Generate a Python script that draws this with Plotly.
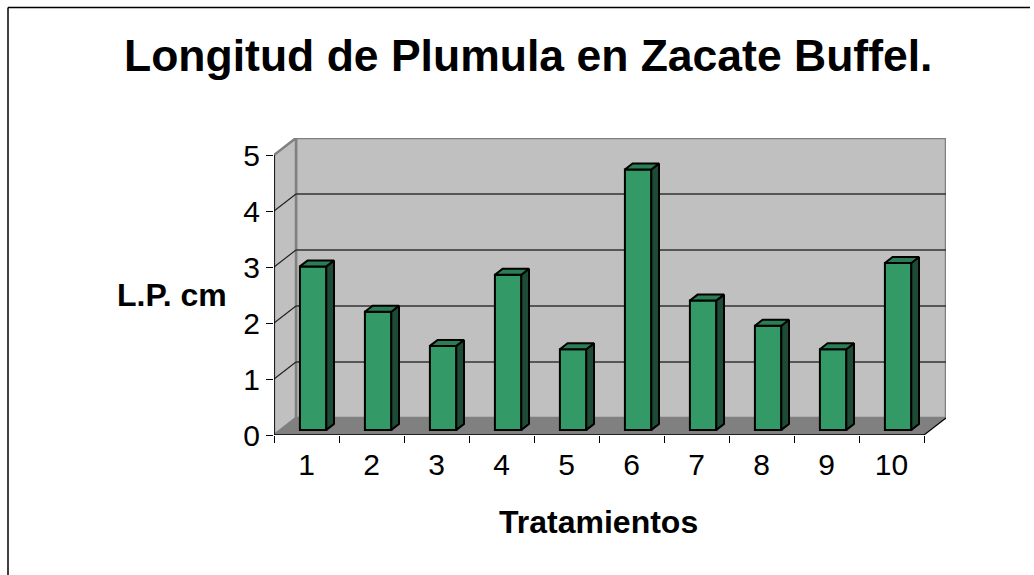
import plotly.graph_objects as go

# ---- data ----
categories = [1, 2, 3, 4, 5, 6, 7, 8, 9, 10]
tick_labels = ["1", "2", "3", "4", "5", "6", "7", "8", "9", "10"]
values = [2.92, 2.11, 1.50, 2.77, 1.44, 4.65, 2.31, 1.86, 1.44, 2.98]
y_ticks = [0, 1, 2, 3, 4, 5]

title_text = "Longitud de Plumula en Zacate Buffel."
x_title = "Tratamientos"
y_title = "L.P. cm"

# ---- geometry (oblique 3D projection in data units) ----
W_PX, H_PX = 1034, 575
ML, MR, MT, MB = 274, 88, 138, 140
DX = 22 / 65.0      # depth offset, category units
DY = 17 / 56.0      # depth offset, value units
F1, F2 = 0.30, 0.65  # bar front / back depth fractions
BW = 0.406           # bar width
YMAX = 5
XMIN, XMAX = 0.5, len(categories) + 0.5

FRONT = "#339966"
SIDE = "#1D4B35"
TOP = "#2B7D53"
WALL = "#C0C0C0"
FLOOR = "#808080"
FONT = "Liberation Sans, Arial, sans-serif"

b1 = F1 * DY
ddx = (F2 - F1) * DX
ddy = (F2 - F1) * DY
shift = F1 * DX

fig = go.Figure()

# front faces
fig.add_trace(go.Bar(
    x=categories, y=values, base=b1, width=BW, offset=-BW / 2 + shift,
    marker=dict(color=FRONT, line=dict(color="black", width=2)),
    hoverinfo="skip", showlegend=False,
))

# side and top faces
sx, sy, tx, ty = [], [], [], []
for c, v in zip(categories, values):
    xl = c - BW / 2 + shift
    xr = c + BW / 2 + shift
    top = b1 + v
    sx += [xr, xr, xr + ddx, xr + ddx, xr, None]
    sy += [b1, top, top + ddy, b1 + ddy, b1, None]
    tx += [xl, xr, xr + ddx, xl + ddx, xl, None]
    ty += [top, top, top + ddy, top + ddy, top, None]

fig.add_trace(go.Scatter(x=sx, y=sy, mode="lines", fill="toself", fillcolor=SIDE,
                         line=dict(color="black", width=2), hoverinfo="skip", showlegend=False))
fig.add_trace(go.Scatter(x=tx, y=ty, mode="lines", fill="toself", fillcolor=TOP,
                         line=dict(color="black", width=2), hoverinfo="skip", showlegend=False))

shapes = []
# back wall
shapes.append(dict(type="rect", xref="x", yref="y", x0=XMIN + DX, x1=XMAX + DX, y0=DY, y1=YMAX + DY,
                   fillcolor=WALL, line=dict(color="#808080", width=2.5), layer="below"))
# left wall
shapes.append(dict(type="path", xref="x", yref="y",
                   path=f"M {XMIN},0 L {XMIN+DX},{DY} L {XMIN+DX},{YMAX+DY} L {XMIN},{YMAX} Z",
                   fillcolor=WALL, line=dict(color="#808080", width=2.5), layer="below"))
# floor
shapes.append(dict(type="path", xref="x", yref="y",
                   path=f"M {XMIN},0 L {XMAX},0 L {XMAX+DX},{DY} L {XMIN+DX},{DY} Z",
                   fillcolor=FLOOR, line=dict(width=0), layer="below"))
# gridlines
for k in y_ticks[1:-1]:
    shapes.append(dict(type="line", xref="x", yref="y", x0=XMIN + DX, x1=XMAX + DX, y0=k + DY, y1=k + DY,
                       line=dict(color="#333333", width=1.5), layer="below"))
    shapes.append(dict(type="line", xref="x", yref="y", x0=XMIN, x1=XMIN + DX, y0=k, y1=k + DY,
                       line=dict(color="#222222", width=1.2), layer="below"))
# axis lines
shapes.append(dict(type="line", xref="x", yref="y", x0=XMIN, x1=XMIN, y0=0, y1=YMAX,
                   line=dict(color="black", width=1.5)))
shapes.append(dict(type="line", xref="x", yref="y", x0=XMIN, x1=XMAX, y0=0, y1=0,
                   line=dict(color="black", width=1.5)))
shapes.append(dict(type="line", xref="x", yref="y", x0=XMAX, x1=XMAX + DX, y0=0, y1=DY,
                   line=dict(color="black", width=1.2)))
# outer chart frame (only left + top edges fall inside the picture)
pw = W_PX - ML - MR
ph = H_PX - MT - MB
fx = (8 - ML) / pw
fy = (H_PX - MB - 7.5) / ph
shapes.append(dict(type="line", xref="paper", yref="paper", x0=fx, x1=fx, y0=fy, y1=-MB / ph,
                   line=dict(color="black", width=1.5)))
shapes.append(dict(type="line", xref="paper", yref="paper", x0=fx, x1=(W_PX - 4 - ML) / pw, y0=fy, y1=fy,
                   line=dict(color="black", width=1.5)))

annotations = [
    dict(text=f"<b>{title_text}</b>", xref="paper", yref="paper",
         x=(528 - ML) / pw, y=(H_PX - MB - 56) / ph, xanchor="center", yanchor="middle",
         showarrow=False, font=dict(family=FONT, size=44.5, color="black")),
    dict(text=f"<b>{x_title}</b>", xref="paper", yref="paper",
         x=(598 - ML) / pw, y=(H_PX - MB - 522) / ph, xanchor="center", yanchor="middle",
         showarrow=False, font=dict(family=FONT, size=32, color="black")),
    dict(text=f"<b>{y_title}</b>", xref="paper", yref="paper",
         x=(172 - ML) / pw, y=(H_PX - MB - 295) / ph, xanchor="center", yanchor="middle",
         showarrow=False, font=dict(family=FONT, size=32, color="black")),
]

fig.update_layout(
    width=W_PX, height=H_PX,
    margin=dict(l=ML, r=MR, t=MT, b=MB, pad=0),
    paper_bgcolor="white", plot_bgcolor="rgba(0,0,0,0)",
    shapes=shapes, annotations=annotations, showlegend=False,
    font=dict(family=FONT, color="black"),
    xaxis=dict(range=[XMIN, XMAX + DX], showgrid=False, zeroline=False, showline=False,
               tickmode="array", tickvals=categories, ticktext=tick_labels, ticks="",
               ticklabelstandoff=9,
               tickfont=dict(size=30, family=FONT, color="black"),
               minor=dict(tickmode="array", tickvals=[c + 0.5 for c in [0] + categories],
                          ticks="outside", ticklen=7, tickcolor="black", tickwidth=1.2, showgrid=False),
               fixedrange=True),
    yaxis=dict(range=[0, YMAX + DY], showgrid=False, zeroline=False, showline=False,
               tickmode="array", tickvals=y_ticks, ticks="outside", ticklen=7,
               tickcolor="black", tickwidth=1.2,
               tickfont=dict(size=30, family=FONT, color="black"), fixedrange=True),
)

fig.write_html("out.html", config={"displayModeBar": False},
               post_script=("document.body.style.margin='0';"
                            "document.body.style.overflow='hidden';"
                            "document.documentElement.style.overflow='hidden';"))
